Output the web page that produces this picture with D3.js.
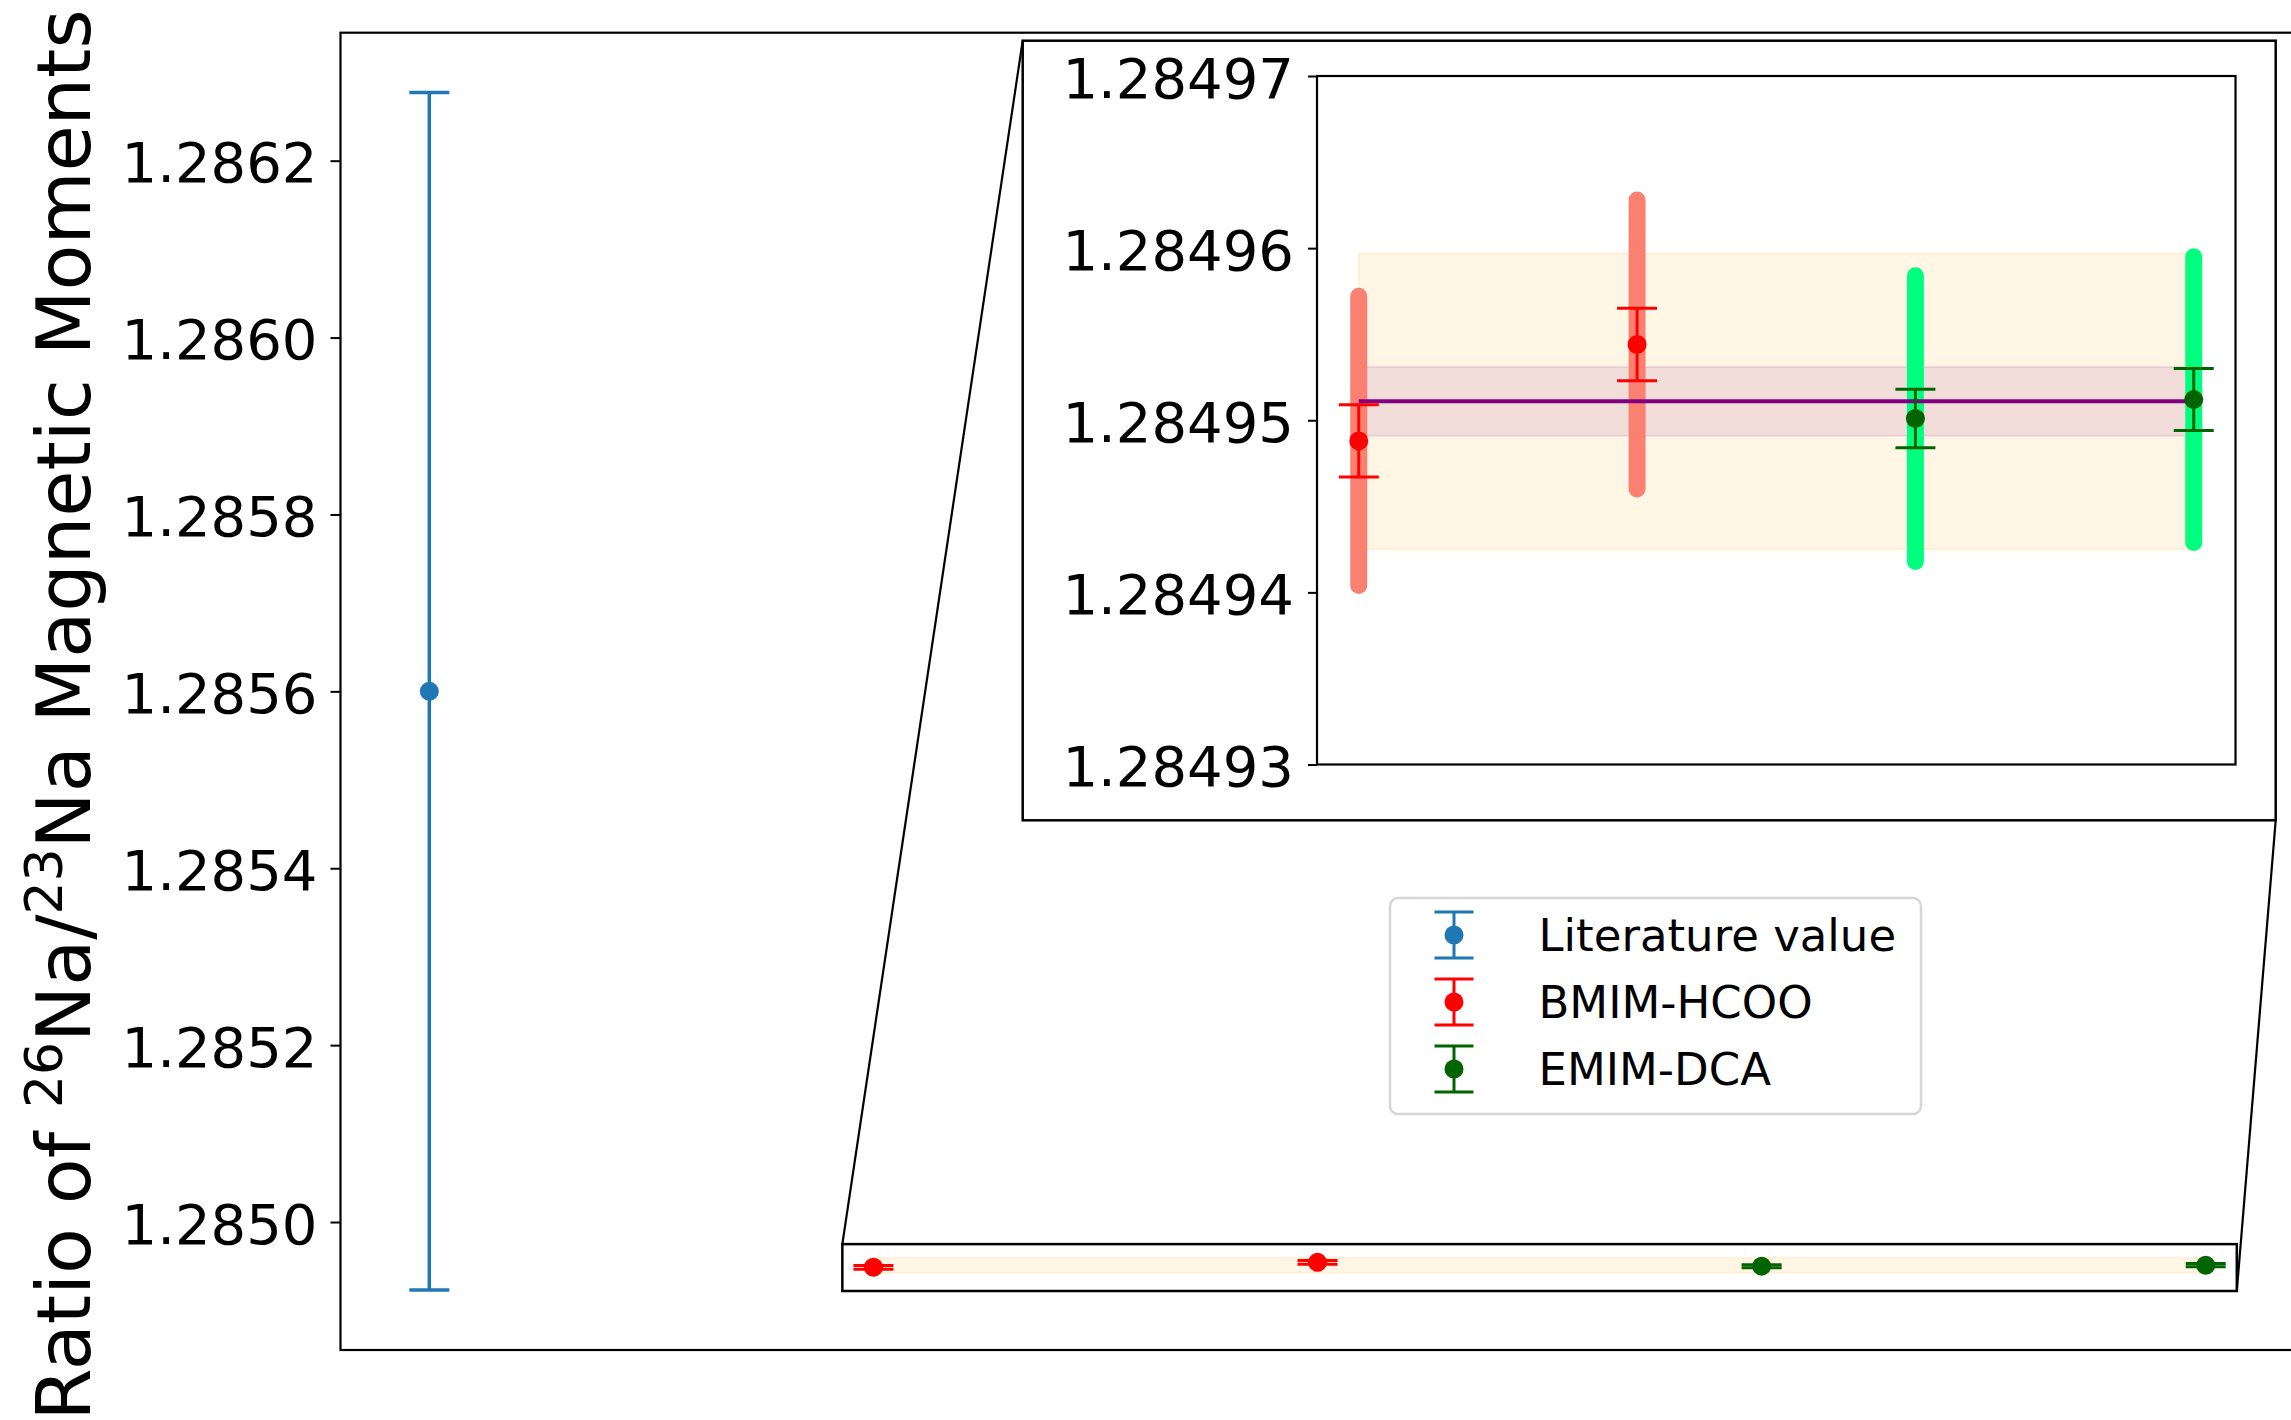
<!DOCTYPE html>
<html>
<head>
<meta charset="utf-8">
<script src="https://cdn.jsdelivr.net/npm/d3@7"></script>
<style>
  html, body { margin: 0; padding: 0; background: #fff; }
  svg { display: block; font-family: "DejaVu Sans", sans-serif; }
</style>
</head>
<body>
<svg id="chart" width="2291" height="1420"></svg>
<script>
// ---------------- data ----------------
const seriesNames = ["Literature value", "BMIM-HCOO", "EMIM-DCA"];
const seriesColors = ["#1f77b4", "red", "darkgreen"];
const thickColors = [null, "salmon", "springgreen"];

const litX = [0];
const litY = [1.28560];
const litErr = [0.000677];

const bmimX = [1, 2];
const bmimY = [1.2849488, 1.2849544];
const bmimErr = [0.0000021, 0.0000021];
const bmimSys = [0.0000084, 0.0000084];

const emimX = [3, 4];
const emimY = [1.2849501, 1.2849512];
const emimErr = [0.0000017, 0.0000018];
const emimSys = [0.0000083, 0.0000083];

const meanX = [1, 4];
const meanY = 1.2849511;
const meanErr = 0.0000020;
const meanSys = 0.0000086;

const mainTicks = [1.2850, 1.2852, 1.2854, 1.2856, 1.2858, 1.2860, 1.2862];
const insetTicks = [1.28493, 1.28494, 1.28495, 1.28496, 1.28497];
const insetXDomain = [0.85, 4.15];
const insetYDomain = [1.28493, 1.28497];
const zoomBoxX = [0.93, 4.07];
const zoomBoxY = [1.284922, 1.284975];

// ---------------- layout ----------------
const svg = d3.select("#chart");
const FONT = "DejaVu Sans";
const main = { left: 340.5, top: 32.7, bottom: 1350 };
const allX = [...litX, ...bmimX, ...emimX];
const allLo = [litY[0] - litErr[0]], allHi = [litY[0] + litErr[0]];
bmimY.forEach((v, i) => { allLo.push(v - bmimErr[i]); allHi.push(v + bmimErr[i]); });
emimY.forEach((v, i) => { allLo.push(v - emimErr[i]); allHi.push(v + emimErr[i]); });
const xMin = d3.min(allX), xMax = d3.max(allX);
const yMin = d3.min(allLo), yMax = d3.max(allHi);
const xm = (xMax - xMin) * 0.05, ym = (yMax - yMin) * 0.05;

const xMain = d3.scaleLinear().domain([xMin - xm, xMax + xm]).range([main.left, main.left + 444.1 * (xMax - xMin + 2 * xm)]);
const yMain = d3.scaleLinear().domain([yMin - ym, yMax + ym]).range([main.bottom, main.top]);

const mainRight = xMain.range()[1];

// clip for main axes
const defs = svg.append("defs");
defs.append("clipPath").attr("id", "mainclip").append("rect")
  .attr("x", main.left).attr("y", main.top)
  .attr("width", mainRight - main.left).attr("height", main.bottom - main.top);

const gMain = svg.append("g").attr("clip-path", "url(#mainclip)");

// orange band in main
gMain.append("rect")
  .attr("x", xMain(meanX[0])).attr("width", xMain(meanX[1]) - xMain(meanX[0]))
  .attr("y", yMain(meanY + meanSys)).attr("height", yMain(meanY - meanSys) - yMain(meanY + meanSys))
  .attr("fill", "orange").attr("fill-opacity", 0.1)
  .attr("stroke", "orange").attr("stroke-opacity", 0.1).attr("stroke-width", 2);

function errorbars(g, xs, ys, es, color, xs_, ys_, cap, lw, r) {
  xs.forEach((x, i) => {
    const px = xs_(x), lo = ys_(ys[i] - es[i]), hi = ys_(ys[i] + es[i]);
    g.append("line").attr("x1", px).attr("x2", px).attr("y1", lo).attr("y2", hi)
      .attr("stroke", color).attr("stroke-width", lw);
    [lo, hi].forEach(yy => g.append("line").attr("x1", px - cap).attr("x2", px + cap)
      .attr("y1", yy).attr("y2", yy).attr("stroke", color).attr("stroke-width", lw));
    g.append("circle").attr("cx", px).attr("cy", ys_(ys[i])).attr("r", r).attr("fill", color);
  });
}

errorbars(gMain, litX, litY, litErr, seriesColors[0], xMain, yMain, 20, 3.5, 9.5);
errorbars(gMain, bmimX, bmimY, bmimErr, seriesColors[1], xMain, yMain, 20, 3, 9.5);
errorbars(gMain, emimX, emimY, emimErr, seriesColors[2], xMain, yMain, 20, 3, 9.5);

// main axes spines
const spine = svg.append("g");
spine.append("rect").attr("x", main.left).attr("y", main.top)
  .attr("width", mainRight - main.left).attr("height", main.bottom - main.top)
  .attr("fill", "none").attr("stroke", "#000").attr("stroke-width", 2.2);

// main y axis
const yAxisMain = svg.append("g").attr("transform", `translate(${main.left},0)`)
  .call(d3.axisLeft(yMain).tickValues(mainTicks).tickFormat(d3.format(".4f")).tickSize(10).tickPadding(13));
yAxisMain.select(".domain").remove();
yAxisMain.selectAll(".tick line").attr("stroke", "#000").attr("stroke-width", 2);
yAxisMain.selectAll(".tick text").attr("font-family", FONT).attr("font-size", 56).attr("fill", "#000").attr("dy", "0.38em");

// y label
const ylab = svg.append("text")
  .attr("transform", "translate(90,715) rotate(-90)")
  .attr("text-anchor", "middle").attr("font-family", FONT).attr("font-size", 75).attr("fill", "#000");
ylab.append("tspan").text("Ratio of ");
ylab.append("tspan").attr("font-size", 52).attr("dy", -28).text("26");
ylab.append("tspan").attr("dy", 28).text("Na/");
ylab.append("tspan").attr("font-size", 52).attr("dy", -28).text("23");
ylab.append("tspan").attr("dy", 28).text("Na Magnetic Moments");

// zoom box in main
const bx0 = xMain(zoomBoxX[0]), bx1 = xMain(zoomBoxX[1]);
const by0 = yMain(zoomBoxY[1]), by1 = yMain(zoomBoxY[0]);
svg.append("rect").attr("x", bx0).attr("y", by0).attr("width", bx1 - bx0).attr("height", by1 - by0)
  .attr("fill", "none").attr("stroke", "#000").attr("stroke-width", 2.5);

// outer inset frame
const outer = { x0: 1022.7, y0: 40.7, x1: 2275.7, y1: 820.3 };
svg.append("rect").attr("x", outer.x0).attr("y", outer.y0)
  .attr("width", outer.x1 - outer.x0).attr("height", outer.y1 - outer.y0)
  .attr("fill", "#fff").attr("stroke", "#000").attr("stroke-width", 2.5);

// connectors
svg.append("line").attr("x1", bx0).attr("y1", by0).attr("x2", outer.x0).attr("y2", outer.y0)
  .attr("stroke", "#000").attr("stroke-width", 2.2);
svg.append("line").attr("x1", bx1).attr("y1", by1).attr("x2", outer.x1).attr("y2", outer.y1)
  .attr("stroke", "#000").attr("stroke-width", 2.2);

// ---------------- inset ----------------
const ins = { left: 1317, right: 2235.5, top: 76, bottom: 764.5 };
const xIn = d3.scaleLinear().domain(insetXDomain).range([ins.left, ins.right]);
const yIn = d3.scaleLinear().domain(insetYDomain).range([ins.bottom, ins.top]);
defs.append("clipPath").attr("id", "insclip").append("rect")
  .attr("x", ins.left).attr("y", ins.top).attr("width", ins.right - ins.left).attr("height", ins.bottom - ins.top);

svg.append("rect").attr("x", ins.left).attr("y", ins.top)
  .attr("width", ins.right - ins.left).attr("height", ins.bottom - ins.top).attr("fill", "#fff");
const gIn = svg.append("g").attr("clip-path", "url(#insclip)");

// bands
gIn.append("rect")
  .attr("x", xIn(meanX[0])).attr("width", xIn(meanX[1]) - xIn(meanX[0]))
  .attr("y", yIn(meanY + meanSys)).attr("height", yIn(meanY - meanSys) - yIn(meanY + meanSys))
  .attr("fill", "orange").attr("fill-opacity", 0.1)
  .attr("stroke", "orange").attr("stroke-opacity", 0.12).attr("stroke-width", 2);
gIn.append("rect")
  .attr("x", xIn(meanX[0])).attr("width", xIn(meanX[1]) - xIn(meanX[0]))
  .attr("y", yIn(meanY + meanErr)).attr("height", yIn(meanY - meanErr) - yIn(meanY + meanErr))
  .attr("fill", "purple").attr("fill-opacity", 0.1)
  .attr("stroke", "purple").attr("stroke-opacity", 0.1).attr("stroke-width", 2);

// thick systematic bars
function thick(xs, ys, ss, color) {
  xs.forEach((x, i) => {
    gIn.append("line").attr("x1", xIn(x)).attr("x2", xIn(x))
      .attr("y1", yIn(ys[i] - ss[i])).attr("y2", yIn(ys[i] + ss[i]))
      .attr("stroke", color).attr("stroke-width", 17).attr("stroke-linecap", "round");
  });
}
thick(bmimX, bmimY, bmimSys, thickColors[1]);
thick(emimX, emimY, emimSys, thickColors[2]);

// mean line
gIn.append("line").attr("x1", xIn(meanX[0])).attr("x2", xIn(meanX[1]))
  .attr("y1", yIn(meanY)).attr("y2", yIn(meanY))
  .attr("stroke", "purple").attr("stroke-width", 4);

errorbars(gIn, bmimX, bmimY, bmimErr, seriesColors[1], xIn, yIn, 20, 3, 9.5);
errorbars(gIn, emimX, emimY, emimErr, seriesColors[2], xIn, yIn, 20, 3, 9.5);

svg.append("rect").attr("x", ins.left).attr("y", ins.top)
  .attr("width", ins.right - ins.left).attr("height", ins.bottom - ins.top)
  .attr("fill", "none").attr("stroke", "#000").attr("stroke-width", 2.2);

const yAxisIn = svg.append("g").attr("transform", `translate(${ins.left},0)`)
  .call(d3.axisLeft(yIn).tickValues(insetTicks).tickFormat(d3.format(".5f")).tickSize(9).tickPadding(14));
yAxisIn.select(".domain").remove();
yAxisIn.selectAll(".tick line").attr("stroke", "#000").attr("stroke-width", 2);
yAxisIn.selectAll(".tick text").attr("font-family", FONT).attr("font-size", 56).attr("fill", "#000").attr("dy", "0.38em");

// ---------------- legend ----------------
const leg = { x0: 1390, y0: 898, x1: 1921, y1: 1114 };
svg.append("rect").attr("x", leg.x0).attr("y", leg.y0)
  .attr("width", leg.x1 - leg.x0).attr("height", leg.y1 - leg.y0).attr("rx", 8)
  .attr("fill", "#fff").attr("fill-opacity", 0.8).attr("stroke", "#d6d6d6").attr("stroke-width", 2.5);
const rowY = [935, 1002, 1069];
seriesNames.forEach((name, i) => {
  const g = svg.append("g");
  const cx = 1454, cy = rowY[i], c = seriesColors[i];
  g.append("line").attr("x1", cx).attr("x2", cx).attr("y1", cy - 23).attr("y2", cy + 23).attr("stroke", c).attr("stroke-width", 3);
  [cy - 23, cy + 23].forEach(yy => g.append("line").attr("x1", cx - 19.5).attr("x2", cx + 19.5)
    .attr("y1", yy).attr("y2", yy).attr("stroke", c).attr("stroke-width", 3));
  g.append("circle").attr("cx", cx).attr("cy", cy).attr("r", 9.5).attr("fill", c);
  g.append("text").attr("x", 1538.5).attr("y", cy).attr("dy", "0.36em")
    .attr("font-family", FONT).attr("font-size", 45).attr("fill", "#000").text(name);
});
</script>
</body>
</html>
